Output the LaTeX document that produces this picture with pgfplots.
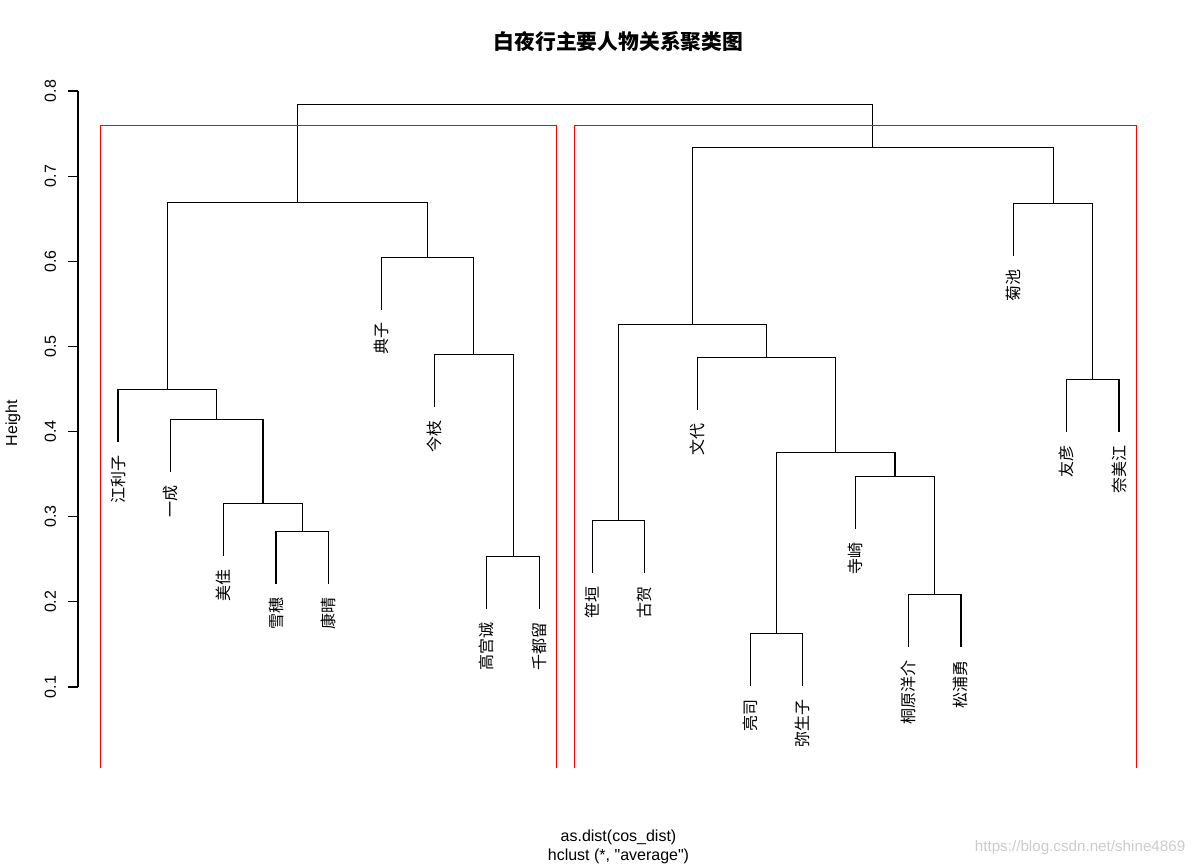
\documentclass[border=0pt]{standalone}
\usepackage{fontspec}
\setmainfont{Liberation Sans}
\newfontfamily\cjk{Noto Sans CJK SC}
\usepackage{pgfplots}
\usepackage{pgfplotstable}
\pgfplotsset{compat=1.18}

\pgfplotstableread{
x y lab
1 0.3875 江利子
2 0.3523 一成
3 0.2536 美佳
4 0.2207 雪穗
5 0.2207 康晴
6 0.5428 典子
7 0.4286 今枝
8 0.1914 高宫诚
9 0.1914 千都留
10 0.2337 笹垣
11 0.2337 古贺
12 0.4251 文代
13 0.1009 亮司
14 0.1009 弥生子
15 0.2853 寺崎
16 0.1468 桐原洋介
17 0.1468 松浦勇
18 0.6060 菊池
19 0.3993 友彦
20 0.3993 奈美江
}\leaves

\begin{document}
\begin{tikzpicture}
\useasboundingbox (0,0) rectangle (600pt,433pt);
\begin{axis}[
  at={(39pt,49pt)}, anchor=south west,
  scale only axis, width=540.5pt, height=345pt,
  xmin=0.24, xmax=20.76, ymin=0.0048, ymax=0.8153,
  axis x line*=bottom, axis y line*=left,
  axis line style={draw=none},
  xtick=\empty,
  ytick={0.1,0.2,0.3,0.4,0.5,0.6,0.7,0.8},
  yticklabels={0.1,0.2,0.3,0.4,0.5,0.6,0.7,0.8},
  tick align=outside, major tick length=4.8pt,
  tick style={black, line width=0.6pt},
  yticklabel style={rotate=90, anchor=south, font=\fontsize{8}{8}\selectfont, inner xsep=0pt, inner ysep=6pt},
  ylabel={Height},
  ylabel style={at={(axis description cs:-0.0601,0.5)}, anchor=center, font=\fontsize{8}{8}\selectfont},
  xlabel={as.dist(cos\_dist)\\hclust (*, \textquotedbl average\textquotedbl)},
  xlabel style={align=center, at={(axis description cs:0.5,0)}, anchor=center, yshift=-39.5pt, font=\fontsize{8}{9.5}\selectfont},
  title={白夜行主要人物关系聚类图},
  title style={at={(axis description cs:0.5,1)}, anchor=center, yshift=12pt, font=\cjk\bfseries\fontsize{10.4}{10.4}\selectfont},
  clip=false,
  dend/.style={black, line width=0.6pt, mark=none},
]
% y axis line
\addplot[dend] coordinates {(0.24,0.1) (0.24,0.8)};
% merges
\addplot[dend] coordinates {(4,0.2207) (4,0.2828) (5,0.2828) (5,0.2207)};
\addplot[dend] coordinates {(3,0.2536) (3,0.3157) (4.5,0.3157) (4.5,0.2828)};
\addplot[dend] coordinates {(2,0.3523) (2,0.4144) (3.75,0.4144) (3.75,0.3157)};
\addplot[dend] coordinates {(1,0.3875) (1,0.4496) (2.875,0.4496) (2.875,0.4144)};
\addplot[dend] coordinates {(8,0.1914) (8,0.2535) (9,0.2535) (9,0.1914)};
\addplot[dend] coordinates {(7,0.4286) (7,0.4907) (8.5,0.4907) (8.5,0.2535)};
\addplot[dend] coordinates {(6,0.5428) (6,0.6049) (7.75,0.6049) (7.75,0.4907)};
\addplot[dend] coordinates {(1.9375,0.4496) (1.9375,0.6693) (6.875,0.6693) (6.875,0.6049)};
\addplot[dend] coordinates {(10,0.2337) (10,0.2958) (11,0.2958) (11,0.2337)};
\addplot[dend] coordinates {(13,0.1009) (13,0.1630) (14,0.1630) (14,0.1009)};
\addplot[dend] coordinates {(16,0.1468) (16,0.2089) (17,0.2089) (17,0.1468)};
\addplot[dend] coordinates {(15,0.2853) (15,0.3474) (16.5,0.3474) (16.5,0.2089)};
\addplot[dend] coordinates {(13.5,0.1630) (13.5,0.3756) (15.75,0.3756) (15.75,0.3474)};
\addplot[dend] coordinates {(12,0.4251) (12,0.4872) (14.625,0.4872) (14.625,0.3756)};
\addplot[dend] coordinates {(10.5,0.2958) (10.5,0.5260) (13.3125,0.5260) (13.3125,0.4872)};
\addplot[dend] coordinates {(19,0.3993) (19,0.4614) (20,0.4614) (20,0.3993)};
\addplot[dend] coordinates {(18,0.6060) (18,0.6681) (19.5,0.6681) (19.5,0.4614)};
\addplot[dend] coordinates {(11.90625,0.5260) (11.90625,0.7339) (18.75,0.7339) (18.75,0.6681)};
\addplot[dend] coordinates {(4.40625,0.6693) (4.40625,0.7844) (15.328125,0.7844) (15.328125,0.7339)};
% cluster rectangles
\addplot[red, line width=0.6pt, mark=none] coordinates {(0.66,0.0048) (0.66,0.75915) (9.33,0.75915) (9.33,0.0048)};
\addplot[red, line width=0.6pt, mark=none] coordinates {(9.66,0.0048) (9.66,0.75915) (20.33,0.75915) (20.33,0.0048)};
% leaf labels
\addplot[draw=none, mark=none, nodes near coords, point meta=explicit symbolic,
  nodes near coords style={rotate=90, anchor=east, font=\cjk\fontsize{8}{8}\selectfont, inner xsep=6.5pt, inner ysep=0pt, outer sep=0pt, text=black}]
  table[x=x, y=y, meta=lab] {\leaves};
\node[text=black!20, font=\fontsize{7.6}{7.6}\selectfont] at (rel axis cs:0.927,-0.116) {https://blog.csdn.net/shine4869};
\end{axis}
\end{tikzpicture}
\end{document}
